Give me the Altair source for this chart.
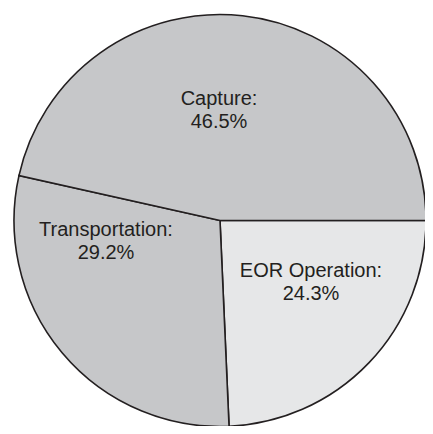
import altair as alt
import pandas as pd
import math

categories = ["EOR Operation", "Transportation", "Capture"]
percents = [24.3, 29.2, 46.5]
fills = ["#e6e7e8", "#c6c7c9", "#c6c7c9"]

df = pd.DataFrame({
    "category": categories,
    "value": percents,
    "order": [0, 1, 2],
})
df["label"] = [f"{c}:\n{p}%" for c, p in zip(categories, percents)]

START = math.pi / 2

pie = alt.Chart(df).mark_arc(
    radius=206, stroke="#231f20", strokeWidth=1.6
).encode(
    x=alt.value(212),
    y=alt.value(212.5),
    theta=alt.Theta("value:Q", stack=True,
                    scale=alt.Scale(range=[START, START + 2 * math.pi])),
    order=alt.Order("order:Q"),
    color=alt.Color("category:N", legend=None,
                    scale=alt.Scale(domain=categories, range=fills)),
)

label_pos = {"Capture": (211, 97), "Transportation": (98, 228), "EOR Operation": (303, 269)}

layers = [pie]
for c in categories:
    px, py = label_pos[c]
    layers.append(
        alt.Chart(df).transform_filter(alt.datum.category == c).mark_text(
            font="Liberation Sans", fontSize=20, color="#231f20",
            lineBreak="\n", lineHeight=23, baseline="alphabetic", align="center"
        ).encode(x=alt.value(px), y=alt.value(py), text="label:N")
    )

chart = alt.layer(*layers).properties(
    width=417, height=418, padding=0, autosize="none"
).configure_view(stroke=None)

chart.save("out.html", embed_options={"renderer": "svg", "actions": False})
